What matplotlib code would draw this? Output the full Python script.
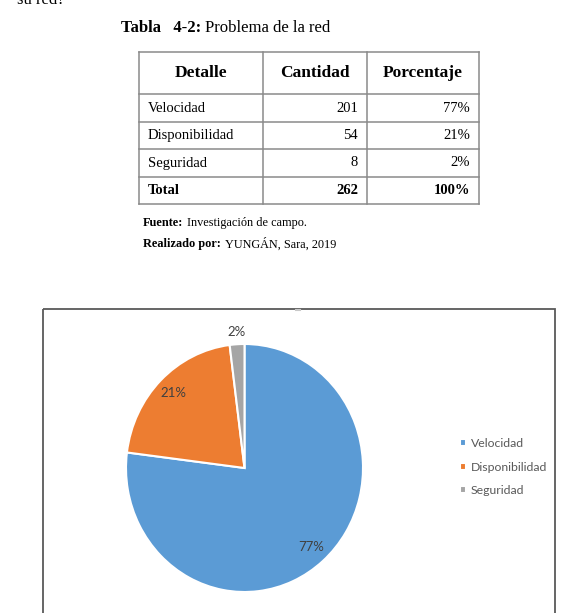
import numpy as np
import matplotlib
matplotlib.use("Agg")
from matplotlib import pyplot as plt
from matplotlib.patches import Rectangle

# table / chart data
detalle = ["Velocidad", "Disponibilidad", "Seguridad"]
cantidad = [201, 54, 8]
porcentaje = [77, 21, 2]
total_cantidad = 262
total_porcentaje = 100
colores = ["#5B9BD5", "#ED7D31", "#A5A5A5"]

W, H = 584, 613
fig = plt.figure(figsize=(W / 100, H / 100), dpi=100)
renderer = fig.canvas.get_renderer()

# page overlay in pixel coords
ax = fig.add_axes([0, 0, 1, 1])
ax.set_xlim(0, W)
ax.set_ylim(H, 0)
ax.axis("off")

serif = "Liberation Serif"


def pair(x, y, bold_txt, txt, size, gap=4):
    "bold lead-in followed by normal text"
    t = ax.text(x, y, bold_txt, fontsize=size, family=serif, weight="bold", va="center")
    x1 = t.get_window_extent(renderer).x1
    ax.text(x1 + gap, y, txt, fontsize=size, family=serif, va="center")


# tail of the previous paragraph, cut by the page edge
ax.text(17, 4, "su red?", fontsize=12, family=serif, va="baseline", ha="left")

# caption
pair(121, 28, "Tabla   4-2:", "Problema de la red", 12)

# table grid
xs = [139, 263, 367, 479]
ys = [52, 94, 122, 149, 177, 204]
gc = "#8a8a8a"
for y in ys:
    ax.plot([xs[0], xs[-1]], [y, y], color=gc, lw=1.1)
for x in xs:
    ax.plot([x, x], [ys[0], ys[-1]], color=gc, lw=1.1)

headers = ["Detalle", "Cantidad", "Porcentaje"]
for i, h in enumerate(headers):
    ax.text((xs[i] + xs[i + 1]) / 2, (ys[0] + ys[1]) / 2, h, fontsize=12.5,
            family=serif, weight="bold", ha="center", va="center")

for r in range(len(detalle)):
    yc = (ys[r + 1] + ys[r + 2]) / 2
    ax.text(xs[0] + 9, yc, detalle[r], fontsize=10.5, family=serif, va="center")
    ax.text(xs[2] - 9, yc, str(cantidad[r]), fontsize=10.5, family=serif, va="center", ha="right")
    ax.text(xs[3] - 9, yc, f"{porcentaje[r]}%", fontsize=10.5, family=serif, va="center", ha="right")

yc = (ys[4] + ys[5]) / 2
ax.text(xs[0] + 9, yc, "Total", fontsize=10.5, family=serif, weight="bold", va="center")
ax.text(xs[2] - 9, yc, str(total_cantidad), fontsize=10.5, family=serif, weight="bold", va="center", ha="right")
ax.text(xs[3] - 9, yc, f"{total_porcentaje}%", fontsize=10.5, family=serif, weight="bold", va="center", ha="right")

# source lines
pair(143, 223, "Fuente:", "Investigación de campo.", 8.8)
pair(143, 244, "Realizado por:", "YUNGÁN, Sara, 2019", 8.8)

# chart frame
ax.add_patch(Rectangle((43, 309), 512, 340, fill=False, edgecolor="#595959", lw=1.3))
ax.plot([296, 300], [310, 310], color="#c8c8c8", lw=1.5)

# pie
cx, cy, rx, ry = 244.5, 468, 118.5, 124
pax = fig.add_axes([(cx - rx) / W, 1 - (cy + ry) / H, 2 * rx / W, 2 * ry / H])
wedges, _ = pax.pie(porcentaje, colors=colores, startangle=90, counterclock=False,
                    wedgeprops=dict(edgecolor="white", linewidth=1.5))
pax.set_aspect("auto")
pax.set_xlim(-1, 1)
pax.set_ylim(-1, 1)
pax.axis("off")

for i, w in enumerate(wedges):
    ang = np.deg2rad((w.theta1 + w.theta2) / 2)
    r = 1.1 if porcentaje[i] < 5 else 0.85
    pax.text(r * np.cos(ang), r * np.sin(ang), f"{porcentaje[i]}%", fontsize=9.5,
             family="Lato", color="#404040", ha="center", va="center", clip_on=False)

leg = fig.legend(wedges, detalle, loc="center left", bbox_to_anchor=(449 / W, 1 - 467 / H),
                 frameon=False, handlelength=0.5, handleheight=0.5, handletextpad=0.4,
                 labelspacing=1.0, prop=dict(family="Lato", size=8.8))
for t in leg.get_texts():
    t.set_color("#595959")

fig.savefig("out.png", dpi=100)
